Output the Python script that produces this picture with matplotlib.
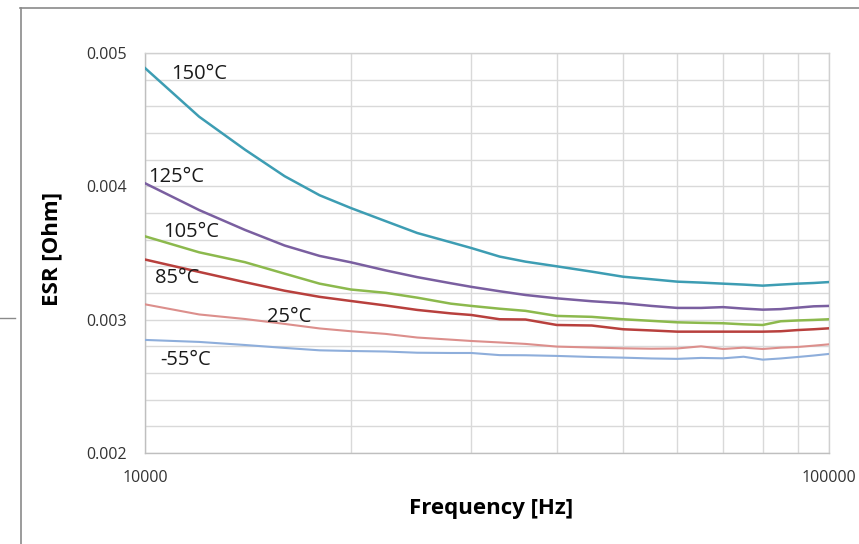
import matplotlib.pyplot as plt
from matplotlib.lines import Line2D
from matplotlib.ticker import FixedLocator, NullFormatter

# frequency sweep [Hz]
freq = [10000, 12000, 14000, 16000, 18000, 20000, 22500, 25000, 28000, 30000,
        33000, 36000, 40000, 45000, 50000, 55000, 60000, 65000, 70000, 75000,
        80000, 85000, 90000, 95000, 100000]

# ESR [Ohm] per temperature
esr_150 = [0.004887, 0.004522, 0.004275, 0.004076, 0.003933, 0.003837, 0.003738,
           0.003650, 0.003580, 0.003537, 0.003473, 0.003435, 0.003400, 0.003360,
           0.003322, 0.003303, 0.003285, 0.003278, 0.003270, 0.003263, 0.003255,
           0.003263, 0.003270, 0.003275, 0.003282]
esr_125 = [0.004023, 0.003822, 0.003673, 0.003556, 0.003478, 0.003430, 0.003369,
           0.003319, 0.003273, 0.003246, 0.003213, 0.003185, 0.003160, 0.003138,
           0.003123, 0.003103, 0.003088, 0.003088, 0.003094, 0.003083, 0.003075,
           0.003079, 0.003090, 0.003100, 0.003103]
esr_105 = [0.003625, 0.003505, 0.003431, 0.003345, 0.003270, 0.003226, 0.003201,
           0.003165, 0.003120, 0.003103, 0.003082, 0.003066, 0.003028, 0.003021,
           0.003003, 0.002991, 0.002980, 0.002976, 0.002973, 0.002965, 0.002960,
           0.002988, 0.002994, 0.002998, 0.003003]
esr_85 = [0.003451, 0.003358, 0.003281, 0.003217, 0.003171, 0.003140, 0.003106,
          0.003073, 0.003047, 0.003035, 0.003003, 0.003001, 0.002960, 0.002956,
          0.002928, 0.002919, 0.002910, 0.002910, 0.002910, 0.002910, 0.002910,
          0.002913, 0.002922, 0.002928, 0.002935]
esr_25 = [0.003115, 0.003039, 0.003005, 0.002968, 0.002934, 0.002913, 0.002893,
          0.002866, 0.002850, 0.002840, 0.002829, 0.002818, 0.002798, 0.002791,
          0.002785, 0.002782, 0.002784, 0.002800, 0.002780, 0.002790, 0.002780,
          0.002790, 0.002795, 0.002805, 0.002815]
esr_m55 = [0.002848, 0.002833, 0.002810, 0.002788, 0.002770, 0.002765, 0.002761,
           0.002752, 0.002750, 0.002750, 0.002734, 0.002733, 0.002728, 0.002720,
           0.002715, 0.002709, 0.002706, 0.002713, 0.002710, 0.002722, 0.002700,
           0.002709, 0.002720, 0.002731, 0.002743]

# name, values, colour, width, label x [Hz], label y [Ohm]
series = [
    ("150°C", esr_150, "#3d9db3", 1.8, 10914, 0.004843),
    ("125°C", esr_125, "#7a5fa0", 1.8, 10112, 0.004072),
    ("105°C", esr_105, "#8cb94d", 1.8, 10636, 0.003660),
    ("85°C", esr_85, "#b8403d", 1.8, 10342, 0.003310),
    ("25°C", esr_25, "#dc8f8c", 1.5, 15065, 0.003022),
    ("-55°C", esr_m55, "#8eaedb", 1.5, 10518, 0.002698),
]

font = "Open Sans"

fig = plt.figure(figsize=(8.59, 5.44), dpi=100)
ax = fig.add_axes([0.1688, 0.1673, 0.7963, 0.7353])

for name, vals, color, lw, tx, ty in series:
    ax.plot(freq, vals, color=color, lw=lw, zorder=3)
    ax.text(tx, ty, name, fontsize=14.5, family=font, va="center", ha="left",
            color="#1a1a1a", zorder=4)

ax.set_xscale("log")
ax.set_xlim(10000, 100000)
ax.set_ylim(0.002, 0.005)
ax.xaxis.set_major_locator(FixedLocator([10000, 100000]))
ax.xaxis.set_minor_locator(FixedLocator([20000, 30000, 40000, 50000, 60000,
                                         70000, 80000, 90000]))
ax.xaxis.set_minor_formatter(NullFormatter())
ax.set_xticklabels(["10000", "100000"])
ax.yaxis.set_major_locator(FixedLocator([0.002, 0.003, 0.004, 0.005]))
ax.yaxis.set_minor_locator(FixedLocator([0.0022, 0.0024, 0.0026, 0.0028,
                                         0.0032, 0.0034, 0.0036, 0.0038,
                                         0.0042, 0.0044, 0.0046, 0.0048]))
ax.set_yticklabels(["0.002", "0.003", "0.004", "0.005"])

ax.grid(True, which="both", color="#d9d9d9", lw=1.0, zorder=0)
ax.tick_params(which="both", length=0)
ax.tick_params(axis="y", pad=13, labelsize=11.5, labelcolor="#333333")
ax.tick_params(axis="x", pad=12, labelsize=11.5, labelcolor="#333333")
for lab in ax.get_xticklabels() + ax.get_yticklabels():
    lab.set_family(font)
for s in ax.spines.values():
    s.set_color("#d0d0d0")
    s.set_linewidth(1.0)
ax.spines["left"].set_color("#bfbfbf")
ax.spines["bottom"].set_color("#bfbfbf")

ax.set_xlabel("Frequency [Hz]", fontsize=16, fontweight="bold", family=font)
ax.set_ylabel("ESR [Ohm]", fontsize=16, fontweight="bold", family=font)
ax.xaxis.set_label_coords(0.5066, -0.1125)
ax.yaxis.set_label_coords(-0.12, 0.51)

# outer frame of the original picture
fig.add_artist(Line2D([20 / 859, 1.0], [1 - 8 / 544, 1 - 8 / 544],
                      transform=fig.transFigure, color="#8a8a8a", lw=1.2))
fig.add_artist(Line2D([21 / 859, 21 / 859], [0.0, 1 - 8 / 544],
                      transform=fig.transFigure, color="#8a8a8a", lw=1.2))
fig.add_artist(Line2D([0.0, 15 / 859], [1 - 318 / 544, 1 - 318 / 544],
                      transform=fig.transFigure, color="#8a8a8a", lw=1.0))

fig.savefig("out.png", dpi=100)
